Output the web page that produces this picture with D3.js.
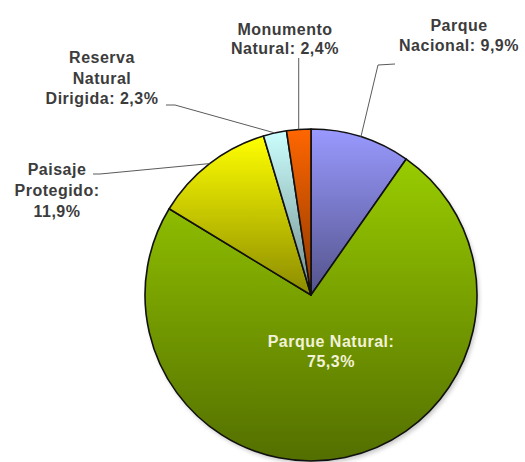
<!DOCTYPE html>
<html>
<head>
<meta charset="utf-8">
<script src="https://cdn.jsdelivr.net/npm/d3@7/dist/d3.min.js"></script>
<style>
  html, body { margin: 0; padding: 0; background: #ffffff; }
  svg { display: block; }
  text { font-family: "Liberation Sans", Arial, sans-serif; font-weight: bold; font-size: 16px; letter-spacing: 0.5px; }
</style>
</head>
<body>
<div id="chart"></div>
<script>
// Protected-area categories, share of total surface (%)
const categories = ["Parque Nacional", "Parque Natural", "Paisaje Protegido", "Reserva Natural Dirigida", "Monumento Natural"];
const values = [9.9, 75.3, 11.9, 2.3, 2.4];
// Label text lines for each slice (value is filled in from `values`)
const labelLines = [
  ["Parque", "Nacional: {v}"],
  ["Parque Natural:", "{v}"],
  ["Paisaje", "Protegido:", "{v}"],
  ["Reserva", "Natural", "Dirigida: {v}"],
  ["Monumento", "Natural: {v}"]
];
const baseColors = ["#9999ff", "#99cc00", "#ffff00", "#ccffff", "#ff6600"];

const W = 525, H = 462;
const cx = 311, cy = 295, R = 166;

// Label placement: text centre x, first baseline y, leader elbow points
const labelLayout = [
  { x: 459, y: 31, lh: 20, color: "#3c3c3c", leader: [[378, 65], [395, 64]] },
  { x: 331, y: 347, lh: 20, color: "#f2f2d8", leader: null },
  { x: 57, y: 175, lh: 21, color: "#3c3c3c", leader: [[100, 174], [93, 174]] },
  { x: 102, y: 63, lh: 20.5, color: "#3c3c3c", leader: [[175, 105], [166, 105]] },
  { x: 285, y: 35, lh: 19, color: "#3c3c3c", leader: "vertical", top: 58 }
];

const fmt = v => d3.format(".1f")(v).replace(".", ",") + "%";

const svg = d3.select("#chart").append("svg")
  .attr("width", W).attr("height", H);

const defs = svg.append("defs");

// Vertical gradient per slice: full colour at top, darker at bottom
baseColors.forEach((c, i) => {
  const g = defs.append("linearGradient")
    .attr("id", "grad" + i)
    .attr("x1", 0).attr("y1", 0).attr("x2", 0).attr("y2", 1);
  g.append("stop").attr("offset", "0%").attr("stop-color", c);
  g.append("stop").attr("offset", "100%").attr("stop-color", d3.color(c).darker(1.7).formatHex());
});

// Soft drop shadow under the pie
const f = defs.append("filter").attr("id", "shadow")
  .attr("x", "-10%").attr("y", "-10%").attr("width", "120%").attr("height", "120%");
f.append("feGaussianBlur").attr("stdDeviation", 2);

const pie = d3.pie().sort(null).value(d => d)(values);
const arc = d3.arc().innerRadius(0).outerRadius(R);

const gPie = svg.append("g").attr("transform", `translate(${cx},${cy})`);

gPie.append("circle")
  .attr("cx", 2).attr("cy", 3).attr("r", R)
  .attr("fill", "#9a9a9a").attr("opacity", 0.55)
  .attr("filter", "url(#shadow)");

gPie.selectAll("path.slice")
  .data(pie)
  .join("path")
  .attr("class", "slice")
  .attr("d", arc)
  .attr("fill", (d, i) => `url(#grad${i})`)
  .attr("stroke", "#111")
  .attr("stroke-width", 1.6)
  .attr("stroke-linejoin", "round");

// Leader lines from the rim at each slice's mid-angle
const rimPoint = d => {
  const a = (d.startAngle + d.endAngle) / 2;
  return [cx + R * Math.sin(a), cy - R * Math.cos(a)];
};

pie.forEach((d, i) => {
  const lay = labelLayout[i];
  if (!lay.leader) return;
  const p0 = rimPoint(d);
  let pts;
  if (lay.leader === "vertical") pts = [p0, [p0[0], lay.top]];
  else pts = [p0, ...lay.leader];
  svg.append("path")
    .attr("d", d3.line()(pts))
    .attr("fill", "none")
    .attr("stroke", "#5a5a5a")
    .attr("stroke-width", 1);
});

// Labels
pie.forEach((d, i) => {
  const lay = labelLayout[i];
  const t = svg.append("text")
    .attr("text-anchor", "middle")
    .attr("fill", lay.color);
  labelLines[i].forEach((line, k) => {
    t.append("tspan")
      .attr("x", lay.x)
      .attr("y", lay.y + k * lay.lh)
      .text(line.replace("{v}", fmt(values[i])));
  });
});
</script>
</body>
</html>
